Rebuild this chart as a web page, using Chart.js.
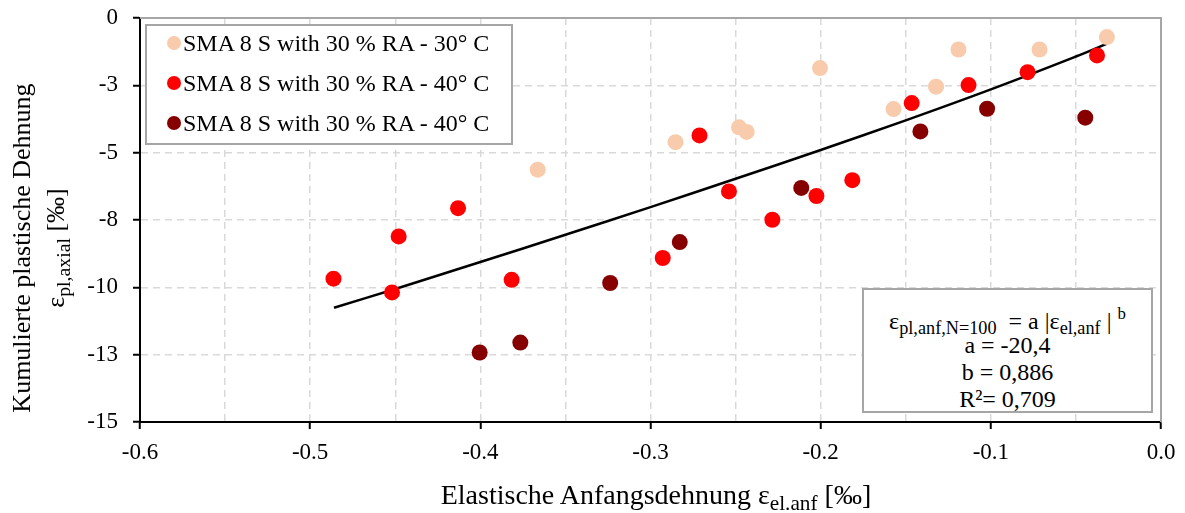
<!DOCTYPE html>
<html>
<head>
<meta charset="utf-8">
<script src="https://cdn.jsdelivr.net/npm/chart.js@4.4.0/dist/chart.umd.min.js"></script>
<style>
  body { margin: 0; background: #fff; font-family: 'Liberation Serif', 'Times New Roman', serif; color: #000; }
  #wrap { position: relative; width: 1185px; height: 513px; overflow: hidden; }
  #chart { position: absolute; left: 0; top: 0; }
  sub { font-size: 0.76em; vertical-align: -0.3em; line-height: 0; }
  sup { font-size: 0.7em; vertical-align: 0.6em; line-height: 0; }
  .box { position: absolute; background: #fff; border: 2px solid #a6a6a6; box-sizing: border-box; }
  .row { position: absolute; left: 0; height: 40px; line-height: 40px; font-size: 24px; white-space: nowrap; }
  .dot { position: absolute; width: 14px; height: 14px; border-radius: 50%; top: 13px; left: 20px; }
  .row span.t { position: absolute; left: 36px; }
  .eq { position: absolute; left: 0; width: 100%; text-align: center; font-size: 24px; line-height: 24px; white-space: nowrap; }
  #xtitle { position: absolute; left: 356px; width: 600px; top: 481px; text-align: center; font-size: 28px; line-height: 28px; white-space: nowrap; }
  #ytitle { position: absolute; left: -140px; top: 213px; width: 360px; height: 70px; transform: rotate(-90deg); text-align: center; font-size: 26px; line-height: 34px; white-space: nowrap; }
</style>
</head>
<body>
<div id="wrap">
  <canvas id="chart" width="1185" height="513"></canvas>
  <div id="legend" class="box" style="left:145px; top:24px; width:368px; height:121px;"></div>
  <div id="fitbox" class="box" style="left:862px; top:288px; width:291px; height:125px;">
    <div class="eq" style="top:19px;">ε<sub>pl,anf,N=100</sub>&nbsp; = a |ε<sub>el,anf</sub> | <sup>b</sup></div>
    <div class="eq" style="top:43px;">a = -20,4</div>
    <div class="eq" style="top:70px;">b = 0,886</div>
    <div class="eq" style="top:97px;">R²= 0,709</div>
  </div>
  <div id="xtitle">Elastische Anfangsdehnung ε<sub>el.anf</sub> [‰]</div>
  <div id="ytitle">Kumulierte plastische Dehnung<br>ε<sub>pl,axial</sub> [‰]</div>
</div>
<script>
// series
const seriesNames = ["SMA 8 S with 30 % RA - 30° C", "SMA 8 S with 30 % RA - 40° C", "SMA 8 S with 30 % RA - 40° C"];
const seriesColors = ["#f8cbad", "#ff0000", "#860000"];

const peachX = [-0.0318, -0.0714, -0.119, -0.1322, -0.1572, -0.2004, -0.248, -0.2435, -0.2853, -0.3663];
const peachY = [-0.71, -1.17, -1.17, -2.55, -3.38, -1.86, -4.06, -4.23, -4.61, -5.63];

const redX = [-0.0376, -0.0784, -0.1131, -0.1465, -0.1814, -0.2025, -0.2284, -0.2539, -0.2712, -0.2928, -0.3816, -0.4131, -0.448, -0.4519, -0.4863];
const redY = [-1.39, -2.01, -2.49, -3.16, -6.02, -6.61, -7.49, -6.44, -4.36, -8.91, -9.72, -7.06, -8.11, -10.19, -9.68];

const darkX = [-0.0445, -0.1022, -0.1414, -0.2114, -0.2828, -0.3237, -0.3765, -0.4004];
const darkY = [-3.70, -3.37, -4.21, -6.31, -8.32, -9.84, -12.05, -12.42];

// trend line, read at a few x positions
const fitX = [-0.486, -0.45, -0.4, -0.35, -0.3, -0.25, -0.2, -0.15, -0.1, -0.05, -0.032];
const fitY = [-10.76, -10.06, -9.06, -8.05, -7.02, -5.97, -4.90, -3.80, -2.65, -1.43, -0.96];

const xTickLabels = ["-0.6", "-0.5", "-0.4", "-0.3", "-0.2", "-0.1", "0.0"];
const yTickValues = [-15, -12.5, -10, -7.5, -5, -2.5, 0];
const yTickLabels = ["-15", "-13", "-10", "-8", "-5", "-3", "0"];

const FONT = "'Liberation Serif', 'Times New Roman', serif";
const pts = (xs, ys) => xs.map((x, i) => ({ x, y: ys[i] }));

// legend rows
const legendEl = document.getElementById("legend");
seriesNames.forEach((name, i) => {
  const row = document.createElement("div");
  row.className = "row";
  row.style.top = (-3 + i * 40) + "px";
  row.innerHTML = `<span class="dot" style="background:${seriesColors[i]}"></span><span class="t">${name}</span>`;
  legendEl.appendChild(row);
});

const frame = {
  id: "frame",
  beforeDatasetsDraw(chart) {
    const { ctx, chartArea: a } = chart;
    ctx.save();
    ctx.strokeStyle = "#a6a6a6";
    ctx.lineWidth = 2;
    ctx.beginPath();
    ctx.moveTo(a.left, a.top);
    ctx.lineTo(a.right, a.top);
    ctx.lineTo(a.right, a.bottom);
    ctx.stroke();
    ctx.restore();
  }
};

const scatterSet = (i, xs, ys) => ({
  type: "scatter",
  label: seriesNames[i],
  data: pts(xs, ys),
  backgroundColor: seriesColors[i],
  borderWidth: 0,
  pointRadius: 8,
  pointHoverRadius: 8,
  order: 1
});

new Chart(document.getElementById("chart"), {
  type: "scatter",
  data: {
    datasets: [
      scatterSet(0, peachX, peachY),
      scatterSet(1, redX, redY),
      scatterSet(2, darkX, darkY),
      {
        type: "line",
        label: "fit",
        data: pts(fitX, fitY),
        borderColor: "#000",
        borderWidth: 2.5,
        pointRadius: 0,
        tension: 0.4,
        fill: false,
        order: 10
      }
    ]
  },
  options: {
    responsive: false,
    animation: false,
    events: [],
    layout: { padding: { top: 18, right: 24, left: 0, bottom: 0 } },
    plugins: { legend: { display: false }, tooltip: { enabled: false } },
    scales: {
      x: {
        type: "linear",
        min: -0.6,
        max: 0,
        afterFit: s => { s.height = 91; s.paddingLeft = 0; s.paddingRight = 0; },
        ticks: {
          stepSize: 0.05,
          autoSkip: false,
          maxRotation: 0,
          padding: 10,
          color: "#000",
          font: { family: FONT, size: 23 },
          callback: (v, i) => (i % 2 === 0 ? xTickLabels[i / 2] : "")
        },
        grid: {
          color: c => (c.index === 0 || c.index === 12 ? "transparent" : "#d9d9d9"),
          lineWidth: 1.5,
          tickLength: 7,
          tickWidth: 2,
          tickColor: c => (c.index % 2 === 0 ? "#000" : "transparent")
        },
        border: { display: true, color: "#000", width: 2, dash: [7, 5] }
      },
      y: {
        type: "linear",
        min: -15,
        max: 0,
        afterFit: s => { s.width = 140; s.paddingTop = 0; s.paddingBottom = 0; },
        ticks: {
          stepSize: 2.5,
          padding: 15,
          color: "#000",
          font: { family: FONT, size: 23 },
          callback: v => yTickLabels[yTickValues.indexOf(v)]
        },
        grid: {
          color: c => (c.tick && (c.tick.value === 0 || c.tick.value === -15) ? "transparent" : "#d9d9d9"),
          lineWidth: 1.5,
          tickLength: 7,
          tickWidth: 2,
          tickColor: "#000"
        },
        border: { display: true, color: "#000", width: 2, dash: [7, 5] }
      }
    }
  },
  plugins: [frame]
});
</script>
</body>
</html>
